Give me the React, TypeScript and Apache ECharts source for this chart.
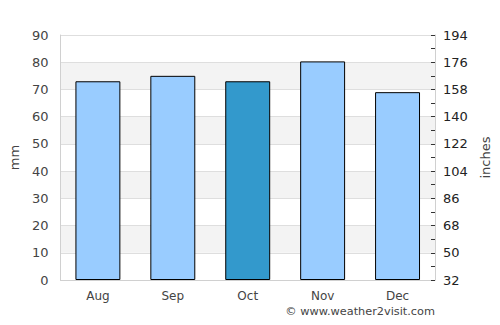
import React, { useEffect, useRef } from "react";
import * as echarts from "echarts";

const months = ["Aug", "Sep", "Oct", "Nov", "Dec"];
const rainfallMm = [73, 75, 73, 80.3, 69];
const highlightIndex = 2;
const rightTickLabels = ["32", "50", "68", "86", "104", "122", "140", "158", "176", "194"];

const FONT = "DejaVu Sans";

export default function App() {
  const ref = useRef<HTMLDivElement>(null);
  useEffect(() => {
    if (!ref.current) return;
    const chart = echarts.init(ref.current, undefined, { renderer: "svg" });
    chart.setOption({
      animation: false,
      textStyle: { fontFamily: FONT },
      grid: { left: 60, right: 65, top: 35, bottom: 45 },
      xAxis: {
        type: "category",
        data: months,
        axisLine: { lineStyle: { color: "#d0d0d0" } },
        axisTick: { show: false },
        axisLabel: { color: "#444", fontSize: 12, margin: 10, fontFamily: FONT },
      },
      yAxis: [
        {
          type: "value",
          min: 0,
          max: 90,
          interval: 10,
          name: "mm",
          nameLocation: "middle",
          nameRotate: 90,
          nameGap: 38,
          nameTextStyle: { color: "#444", fontSize: 13, fontFamily: FONT },
          axisLine: { show: true, lineStyle: { color: "#d0d0d0" } },
          axisTick: { show: false },
          axisLabel: { color: "#444", fontSize: 13, margin: 12, fontFamily: FONT },
          splitLine: { show: true, lineStyle: { color: "#dedede" } },
          splitArea: { show: true, areaStyle: { color: ["#ffffff", "#f3f3f3"] } },
        },
        {
          type: "value",
          position: "right",
          min: 0,
          max: 90,
          interval: 5,
          name: "inches",
          nameLocation: "middle",
          nameRotate: 90,
          nameGap: 40,
          nameTextStyle: { color: "#444", fontSize: 13, fontFamily: FONT },
          axisLine: { show: true, lineStyle: { color: "#d0d0d0" } },
          axisTick: { show: true, inside: true, length: 4, lineStyle: { color: "#333" } },
          axisLabel: {
            color: "#222",
            fontSize: 13,
            margin: 8,
            fontFamily: FONT,
            formatter: (v: number) => (v % 10 === 0 ? rightTickLabels[v / 10] : ""),
          },
          splitLine: { show: false },
        },
      ],
      series: [
        {
          type: "bar",
          yAxisIndex: 0,
          barWidth: "60%",
          data: rainfallMm.map((v, i) => ({
            value: v,
            itemStyle: {
              color: i === highlightIndex ? "#3399cc" : "#99ccff",
              borderColor: "#000",
              borderWidth: 1,
            },
          })),
        },
      ],
      graphic: [
        {
          type: "text",
          right: 65,
          top: 306,
          style: {
            text: "© www.weather2visit.com",
            fill: "#444",
            font: `11.3px "${FONT}"`,
          },
        },
      ],
    });
    return () => chart.dispose();
  }, []);
  return (
    <div
      ref={ref}
      style={{ position: "absolute", left: 0, top: 0, width: 500, height: 325 }}
    />
  );
}
